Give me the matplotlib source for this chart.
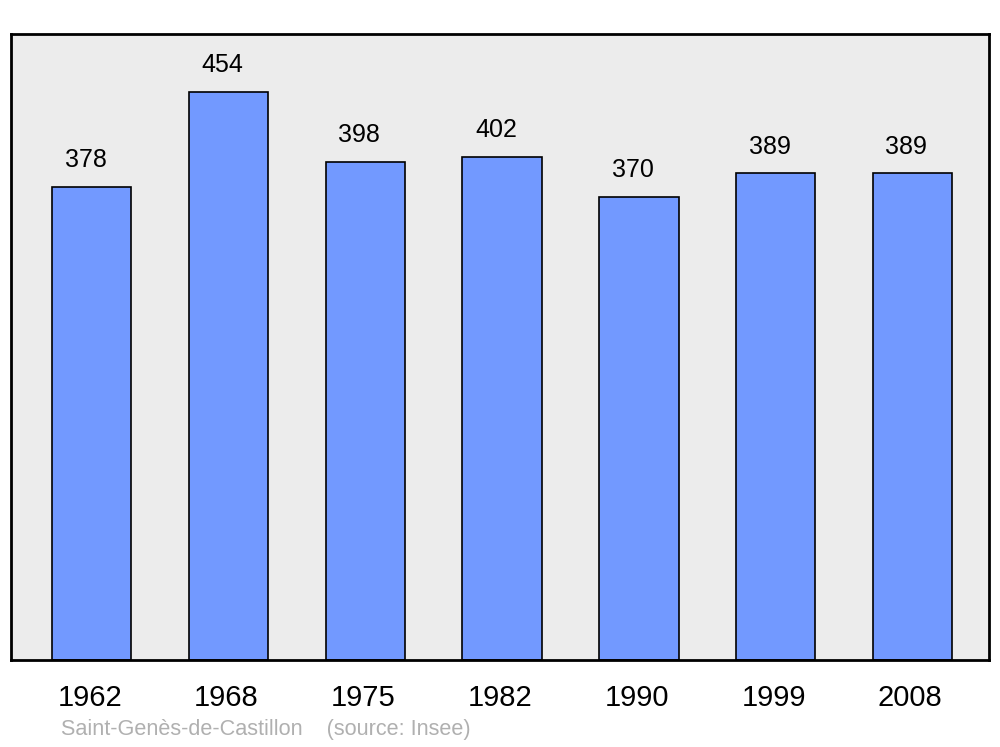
import matplotlib.pyplot as plt

plt.rcParams['font.family'] = ['Liberation Sans', 'DejaVu Sans']

years = ['1962', '1968', '1975', '1982', '1990', '1999', '2008']
population = [378, 454, 398, 402, 370, 389, 389]
caption = 'Saint-Genès-de-Castillon    (source: Insee)'

fig = plt.figure(figsize=(10, 7.47), dpi=100)
ax = fig.add_axes([0.011, 0.1165, 0.978, 0.838])
ax.set_facecolor('#ececec')

x = range(len(years))
ax.bar(x, population, width=0.58, color='#7299ff', edgecolor='black', linewidth=1.2)

for i, v in zip(x, population):
    ax.text(i - 0.045, v + 21, str(v), ha='center', va='center', fontsize=18)

ax.set_xlim(-0.59, 6.56)
ax.set_ylim(0, 500)
ax.set_xticks([i - 0.015 for i in x])
ax.set_xticklabels(years, fontsize=21)
ax.tick_params(axis='x', length=0, pad=17)
ax.set_yticks([])
for s in ax.spines.values():
    s.set_linewidth(2)

fig.text(0.061, 0.0228, caption, fontsize=15.6, color='#b0b0b0', ha='left', va='center')

fig.savefig('out.png', dpi=100)
